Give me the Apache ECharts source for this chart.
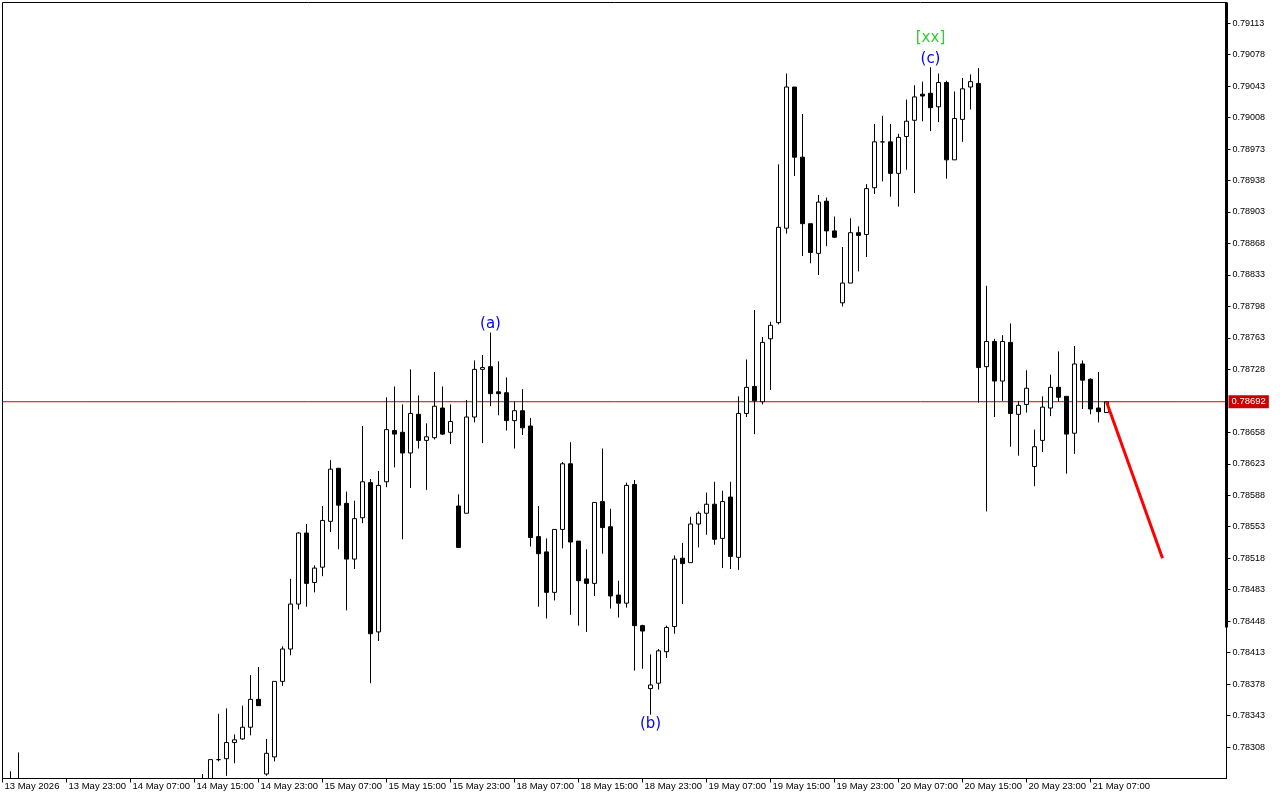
<!DOCTYPE html>
<html><head><meta charset="utf-8">
<script src="https://cdn.jsdelivr.net/npm/echarts@6/dist/echarts.min.js"></script>
<style>html,body{margin:0;padding:0;background:#fff}#c{width:1280px;height:800px}</style>
</head><body><div id="c"></div>
<script>
// Hourly bars, slot 1..138 (slot 0 = 13 May 15:00, left edge)
const opens = [
0.78262,0.78255,0.78250,0.78238,0.78247,0.78236,0.78221,0.78239,0.78233,0.78212,
0.78224,0.78240,0.78235,0.78228,0.78215,0.78229,0.78243,0.78241,0.78232,0.78245,
0.78252,0.78246,0.78250,0.78257,0.78255,0.78262,0.78294,0.78295,0.78313,0.78317,
0.78330,0.78361,0.78278,0.78297,0.78381,0.78417,0.78467,0.78546,0.78491,0.78508,
0.78559,0.78618,0.78579,0.78517,0.78563,0.78602,0.78436,0.78603,0.78660,0.78658,
0.78635,0.78678,0.78649,0.78652,0.78685,0.78658,0.78576,0.78568,0.78675,0.78728,
0.78731,0.78703,0.78702,0.78671,0.78682,0.78665,0.78542,0.78525,0.78480,0.78550,
0.78623,0.78537,0.78495,0.78490,0.78581,0.78553,0.78477,0.78468,0.78600,0.78443,
0.78373,0.78379,0.78414,0.78442,0.78518,0.78513,0.78556,0.78568,0.78578,0.78540,
0.78586,0.78519,0.78679,0.78709,0.78692,0.78762,0.78780,0.78885,0.79042,0.78964,
0.78890,0.78857,0.78915,0.78882,0.78802,0.78824,0.78880,0.78878,0.78930,0.78981,
0.78981,0.78946,0.78987,0.79005,0.79034,0.79035,0.79020,0.79047,0.78961,0.79006,
0.79042,0.79046,0.78731,0.78759,0.78715,0.78758,0.78678,0.78689,0.78620,0.78649,
0.78685,0.78708,0.78698,0.78657,0.78734,0.78717,0.78685,0.78680];
const highs = [
0.78281,0.78302,0.78266,0.78259,0.78262,0.78249,0.78244,0.78255,0.78241,0.78230,
0.78246,0.78258,0.78250,0.78237,0.78233,0.78251,0.78262,0.78254,0.78248,0.78261,
0.78265,0.78258,0.78264,0.78267,0.78278,0.78294,0.78345,0.78351,0.78322,0.78354,
0.78388,0.78397,0.78317,0.78381,0.78420,0.78495,0.78547,0.78556,0.78510,0.78576,
0.78627,0.78618,0.78592,0.78582,0.78665,0.78606,0.78615,0.78697,0.78709,0.78689,
0.78728,0.78699,0.78668,0.78725,0.78709,0.78689,0.78589,0.78694,0.78738,0.78744,
0.78769,0.78737,0.78719,0.78692,0.78706,0.78674,0.78576,0.78540,0.78550,0.78625,
0.78647,0.78537,0.78528,0.78580,0.78640,0.78573,0.78493,0.78602,0.78605,0.78444,
0.78411,0.78417,0.78443,0.78521,0.78535,0.78564,0.78570,0.78591,0.78603,0.78593,
0.78603,0.78698,0.78739,0.78794,0.78764,0.78781,0.78956,0.79057,0.79042,0.79012,
0.78890,0.78922,0.78919,0.78898,0.78864,0.78896,0.78887,0.78934,0.79001,0.79010,
0.79001,0.78990,0.79028,0.79044,0.79048,0.79064,0.79057,0.79049,0.79037,0.79052,
0.79056,0.79063,0.78821,0.78762,0.78766,0.78779,0.78693,0.78727,0.78661,0.78698,
0.78722,0.78748,0.78698,0.78754,0.78738,0.78718,0.78725,0.78692];
const lows = [
0.78248,0.78244,0.78231,0.78226,0.78233,0.78214,0.78210,0.78228,0.78205,0.78198,
0.78219,0.78231,0.78222,0.78207,0.78209,0.78224,0.78236,0.78227,0.78219,0.78238,
0.78240,0.78234,0.78242,0.78245,0.78249,0.78256,0.78292,0.78276,0.78290,0.78316,
0.78321,0.78354,0.78276,0.78292,0.78376,0.78410,0.78461,0.78464,0.78480,0.78498,
0.78547,0.78528,0.78460,0.78506,0.78557,0.78379,0.78426,0.78597,0.78619,0.78539,
0.78596,0.78640,0.78594,0.78650,0.78655,0.78645,0.78530,0.78568,0.78669,0.78646,
0.78687,0.78677,0.78660,0.78640,0.78655,0.78531,0.78464,0.78451,0.78471,0.78529,
0.78455,0.78443,0.78436,0.78476,0.78523,0.78462,0.78452,0.78463,0.78393,0.78395,
0.78344,0.78372,0.78407,0.78434,0.78467,0.78513,0.78530,0.78544,0.78533,0.78507,
0.78506,0.78505,0.78675,0.78656,0.78689,0.78705,0.78778,0.78879,0.78943,0.78854,
0.78846,0.78833,0.78865,0.78874,0.78798,0.78824,0.78837,0.78853,0.78923,0.78937,
0.78920,0.78909,0.78950,0.78924,0.79004,0.78993,0.79003,0.78940,0.78961,0.78981,
0.79017,0.78691,0.78570,0.78675,0.78693,0.78642,0.78632,0.78680,0.78598,0.78636,
0.78676,0.78692,0.78612,0.78634,0.78684,0.78678,0.78669,0.78680];
const closes = [
0.78255,0.78250,0.78238,0.78247,0.78236,0.78221,0.78239,0.78233,0.78212,0.78224,
0.78240,0.78235,0.78228,0.78215,0.78229,0.78243,0.78241,0.78232,0.78245,0.78252,
0.78246,0.78250,0.78257,0.78255,0.78262,0.78294,0.78294,0.78313,0.78316,0.78330,
0.78361,0.78354,0.78301,0.78381,0.78417,0.78467,0.78546,0.78490,0.78507,0.78560,
0.78617,0.78577,0.78517,0.78562,0.78603,0.78434,0.78599,0.78661,0.78656,0.78635,
0.78679,0.78649,0.78653,0.78687,0.78656,0.78670,0.78530,0.78675,0.78728,0.78730,
0.78701,0.78701,0.78671,0.78682,0.78663,0.78541,0.78523,0.78480,0.78550,0.78623,
0.78536,0.78493,0.78490,0.78580,0.78552,0.78476,0.78468,0.78599,0.78443,0.78437,
0.78377,0.78415,0.78441,0.78517,0.78512,0.78556,0.78568,0.78578,0.78539,0.78581,
0.78520,0.78679,0.78708,0.78693,0.78758,0.78777,0.78886,0.79042,0.78964,0.78890,
0.78858,0.78914,0.78882,0.78875,0.78824,0.78880,0.78877,0.78929,0.78981,0.78981,
0.78946,0.78986,0.79004,0.79031,0.79032,0.79019,0.79047,0.78961,0.79007,0.79040,
0.79048,0.78730,0.78759,0.78715,0.78759,0.78679,0.78688,0.78707,0.78642,0.78686,
0.78708,0.78697,0.78656,0.78734,0.78716,0.78684,0.78681,0.78692];

const xTickLabels = ['13 May 2026','13 May 23:00','14 May 07:00','14 May 15:00','14 May 23:00',
  '15 May 07:00','15 May 15:00','15 May 23:00','18 May 07:00','18 May 15:00','18 May 23:00',
  '19 May 07:00','19 May 15:00','19 May 23:00','20 May 07:00','20 May 15:00','20 May 23:00','21 May 07:00'];
const yTickLabels = ['0.78308','0.78343','0.78378','0.78413','0.78448','0.78483','0.78518','0.78553',
  '0.78588','0.78623','0.78658','0.78728','0.78763','0.78798','0.78833','0.78868','0.78903',
  '0.78938','0.78973','0.79008','0.79043','0.79078','0.79113'];

const currentPrice = 0.78692;
const forecastSlots = [138, 145];
const forecastPrices = [0.78692, 0.78518];
const waveNames = ['(a)', '(b)', '(c)', '[xx]'];
const waveSlots = [61, 81, 116, 116];
const wavePrices = [0.78778, 0.78334, 0.79073, 0.79096];
const waveColors = ['#0000ff', '#0000ff', '#0000ff', '#33cc33'];
const scaleBarLow = 0.78441;

const yMin = 0.78273, yMax = 0.79136;
const SLOT_COUNT = 154;
const slots = Array.from({length: SLOT_COUNT}, (_, i) => String(i));
const candleData = ['-'].concat(opens.map((o, i) => [o, closes[i], lows[i], highs[i]]));
const tickVals = yTickLabels.map(Number);
const isLabelSlot = (i) => i % 8 === 0 && i / 8 < xTickLabels.length;

const chart = echarts.init(document.getElementById('c'), null, {renderer: 'canvas'});
chart.setOption({
  animation: false,
  backgroundColor: '#ffffff',
  grid: {left: 2.5, right: 53.5, top: 2.5, bottom: 21.5, show: true, borderColor: '#000', borderWidth: 1, backgroundColor: '#fff'},
  xAxis: {
    type: 'category', data: slots, boundaryGap: false, z: 10,
    axisLine: {show: true, onZero: false, lineStyle: {color: '#000', width: 1}},
    axisTick: {show: true, interval: (i) => isLabelSlot(i), length: 4, lineStyle: {color: '#000'}},
    axisLabel: {show: true, interval: (i) => isLabelSlot(i), formatter: (v, i) => xTickLabels[i / 8] || '',
      align: 'left', margin: 3, padding: [0, 0, 0, 2], color: '#000', fontSize: 9.5, fontFamily: 'Liberation Sans'},
    splitLine: {show: false}
  },
  yAxis: {
    type: 'value', position: 'right', min: yMin, max: yMax, scale: true, z: 10,
    axisLine: {show: true, onZero: false, lineStyle: {color: '#000', width: 1}},
    axisTick: {show: true, customValues: tickVals, length: 4, lineStyle: {color: '#000'}},
    axisLabel: {show: true, customValues: tickVals, formatter: (v) => v.toFixed(5), margin: 6,
      color: '#000', fontSize: 9, fontFamily: 'Liberation Sans'},
    splitLine: {show: false}
  },
  series: [
    {
      type: 'candlestick', data: candleData, barWidth: 5, clip: true, z: 3,
      itemStyle: {color: '#ffffff', color0: '#000000', borderColor: '#000000', borderColor0: '#000000', borderWidth: 1}
    },
    {
      name: 'price', type: 'line', data: [[0, currentPrice], [SLOT_COUNT - 1, currentPrice]],
      symbol: 'none', silent: true, z: 2,
      lineStyle: {color: '#d40000', width: 1},
      endLabel: {show: true, distance: 2, formatter: () => currentPrice.toFixed(5),
        backgroundColor: '#c80000', color: '#fff', padding: [2, 3, 1, 3], fontSize: 9.5, fontFamily: 'Liberation Sans'}
    },
    {
      type: 'line', data: forecastSlots.map((s, i) => [s, forecastPrices[i]]),
      symbol: 'none', silent: true, lineStyle: {color: '#ff0000', width: 3}, z: 5
    },
    {
      type: 'scatter', symbolSize: 1, itemStyle: {color: 'rgba(0,0,0,0)', opacity: 1},
      data: waveNames.map((n, i) => ({name: n, value: [waveSlots[i], wavePrices[i]],
        label: {color: waveColors[i]}})),
      label: {show: true, position: 'inside', formatter: (p) => p.name, fontSize: 15, fontFamily: 'DejaVu Sans', opacity: 1},
      z: 6
    }
  ]
});

const yTop = chart.convertToPixel({yAxisIndex: 0}, yMax);
const yBottomEdge = chart.convertToPixel({yAxisIndex: 0}, yMin);
const yBot = chart.convertToPixel({yAxisIndex: 0}, scaleBarLow);
const xRight = chart.convertToPixel({xAxisIndex: 0}, SLOT_COUNT - 1);
chart.setOption({graphic: [
  {type: 'rect', z: 5, silent: true, shape: {x: 0, y: yBottomEdge + 0.5, width: xRight, height: 800 - yBottomEdge}, style: {fill: '#fff'}},
  {type: 'rect', z: 100, silent: true, shape: {x: xRight - 1.5, y: yTop, width: 3, height: yBot - yTop}, style: {fill: '#000'}}
]});
</script>
</body></html>
